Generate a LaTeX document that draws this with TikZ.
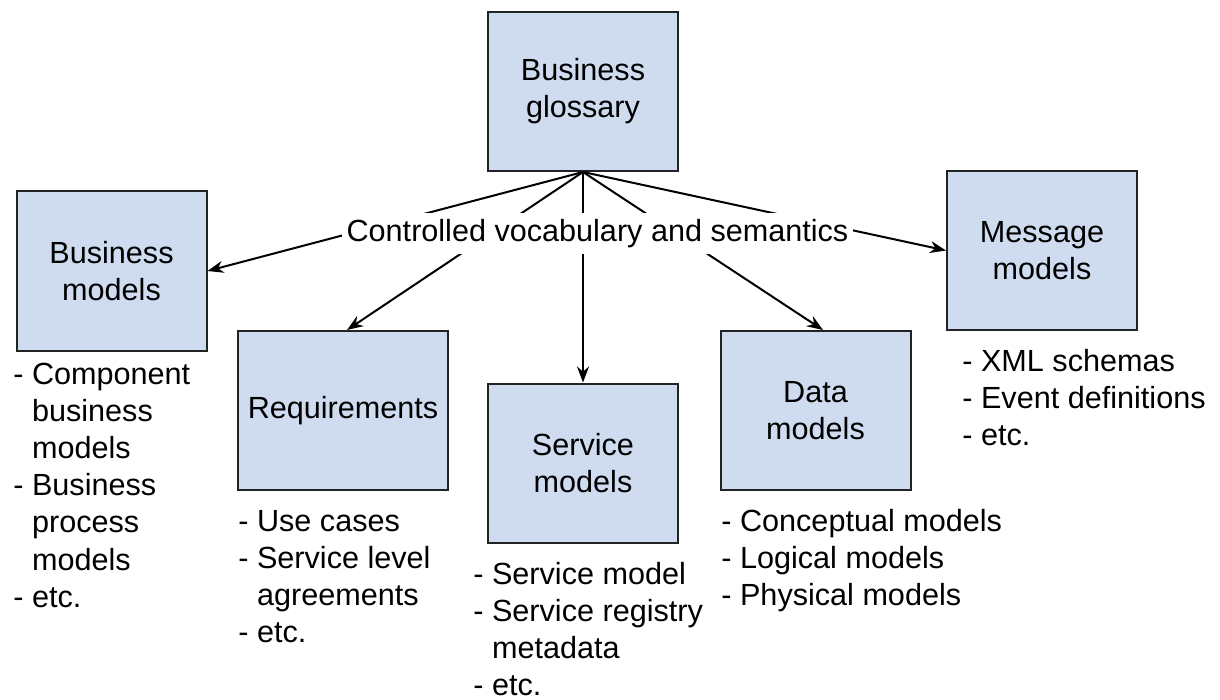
\documentclass[tikz,border=0pt]{standalone}
\usepackage{fontspec}
\setmainfont{Liberation Sans}
\usetikzlibrary{arrows.meta,calc}
\definecolor{boxfill}{RGB}{207,220,240}
\definecolor{boxline}{RGB}{35,35,35}
\begin{document}
\begin{tikzpicture}[x=0.5pt,y=-0.5pt,
  modelbox/.style={draw=boxline,line width=1pt,fill=boxfill,
    minimum width=95pt,minimum height=79.5pt,inner sep=0pt,align=center,
    font=\fontsize{15.3}{18.5}\selectfont},
  itemlist/.style={anchor=base west,inner sep=0pt,
    font=\fontsize{15.3}{18.6}\selectfont},
  link/.style={line width=1pt,-{Stealth[length=8pt,width=6pt]}}]
\useasboundingbox (0,0) rectangle (1220,700);

% boxes (centres in pixel units)
\node[modelbox] (glos) at (583,91.5) {Business\\glossary};
\node[modelbox] (bm)   at (111.5,271) {Business\\models};
\node[modelbox,minimum width=105pt] (req) at (343,410.5) {Requirements};
\node[modelbox] (svc)  at (583,463) {Service\\models};
\node[modelbox] (data) at (815.5,410.5) {Data\\models};
\node[modelbox] (msg)  at (1042,250.5) {Message\\models};

% connectors from the glossary
\draw[link] (glos.south) -- (bm.east);
\draw[link] (glos.south) -- ([xshift=2pt]req.north);
\draw[link] (glos.south) -- (svc.north);
\draw[link] (glos.south) -- ([xshift=3.75pt]data.north);
\draw[link] (glos.south) -- (msg.west);

% shared label over the connectors
\node[fill=white,inner xsep=2.4pt,inner ysep=0pt,text height=14.3pt,text depth=6.1pt,
  anchor=base,font=\fontsize{15.3}{18.5}\selectfont] (vocab) at (597.5,241.7)
  {Controlled vocabulary and semantics};

% item lists under each box
\newcommand{\hang}{\phantom{- }}
\node[itemlist] (bmlist) at (13,384) {\begin{tabular}[t]{@{}l@{}}
- Component\\ \hang business\\ \hang models\\ - Business\\ \hang process\\ \hang models\\ - etc.\end{tabular}};
\node[itemlist] (reqlist) at (238,531) {\begin{tabular}[t]{@{}l@{}}
- Use cases\\ - Service level\\ \hang agreements\\ - etc.\end{tabular}};
\node[itemlist] (svclist) at (473,584) {\begin{tabular}[t]{@{}l@{}}
- Service model\\ - Service registry\\ \hang metadata\\ - etc.\end{tabular}};
\node[itemlist] (datalist) at (721,531.5) {\begin{tabular}[t]{@{}l@{}}
- Conceptual models\\ - Logical models\\ - Physical models\end{tabular}};
\node[itemlist] (msglist) at (962,371.5) {\begin{tabular}[t]{@{}l@{}}
- XML schemas\\ - Event definitions\\ - etc.\end{tabular}};
\end{tikzpicture}
\end{document}
